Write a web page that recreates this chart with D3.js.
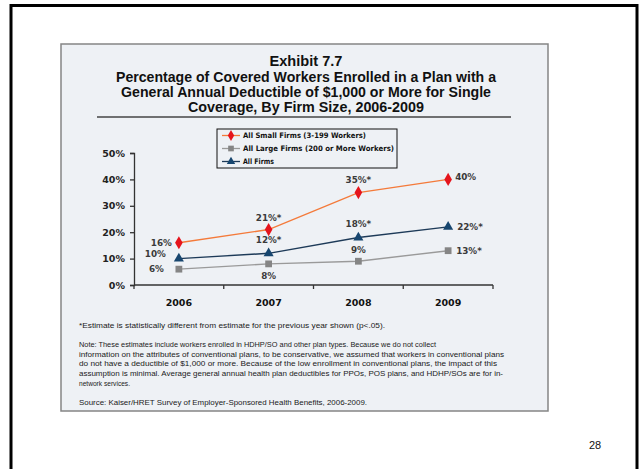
<!DOCTYPE html>
<html><head><meta charset="utf-8">
<script src="https://cdn.jsdelivr.net/npm/d3@7"></script>
<style>html,body{margin:0;padding:0;background:#fff;}svg{display:block;}</style>
</head><body>
<script>
// ---- data ----
const years = ["2006", "2007", "2008", "2009"];
const smallFirms = [0.16, 0.21, 0.35, 0.40];
const largeFirms = [0.06, 0.08, 0.09, 0.13];
const allFirms = [0.10, 0.12, 0.18, 0.22];
const smallLabels = ["16%", "21%*", "35%*", "40%"];
const largeLabels = ["6%", "8%", "9%", "13%*"];
const allLabels = ["10%", "12%*", "18%*", "22%*"];
const yTicks = [0, 0.1, 0.2, 0.3, 0.4, 0.5];
const seriesNames = ["All Small Firms (3-199 Workers)", "All Large Firms (200 or More Workers)", "All Firms"];
const titleLines = ["Exhibit 7.7",
  "Percentage of Covered Workers Enrolled in a Plan with a",
  "General Annual Deductible of $1,000 or More for Single",
  "Coverage, By Firm Size, 2006-2009"];
const footnotes = ["*Estimate is statistically different from estimate for the previous year shown (p<.05).",
  "Note: These estimates include workers enrolled in HDHP/SO and other plan types.  Because we do not collect",
  "information on the attributes of conventional plans, to be conservative, we assumed that workers in conventional plans",
  "do not have a deductible of $1,000 or more.  Because of the low enrollment in conventional plans, the impact of this",
  "assumption is minimal. Average general annual health plan deductibles for PPOs, POS plans, and HDHP/SOs are for in-",
  "network services.",
  "Source: Kaiser/HRET Survey of Employer-Sponsored Health Benefits, 2006-2009."];
const pageNumber = "28";

// ---- layout / style ----
const W = 640, H = 469;
const svg = d3.select("body").append("svg").attr("width", W).attr("height", H);

// outer frame
svg.append("path").attr("d", `M11,${H} V5.5 H637 V${H}`).attr("fill", "none").attr("stroke", "#000").attr("stroke-width", 3);
// panel
svg.append("rect").attr("x", 61).attr("y", 44).attr("width", 487).attr("height", 367)
  .attr("fill", "#eef1f5").attr("stroke", "#858585").attr("stroke-width", 1.5);

// title
const titleFont = "'Liberation Sans Narrow','Arial Narrow','Liberation Sans',Arial,sans-serif";
const titleY = [66, 82, 97, 112];
const titleW = [73, 380, 370, 236];
titleLines.forEach((t, i) => {
  svg.append("text").attr("x", 306).attr("y", titleY[i]).attr("text-anchor", "middle")
    .attr("font-family", titleFont).attr("font-weight", "bold").attr("font-size", 14.5)
    .attr("fill", "#111").attr("textLength", titleW[i]).attr("lengthAdjust", "spacingAndGlyphs").text(t);
});
svg.append("line").attr("x1", 97).attr("x2", 511).attr("y1", 117).attr("y2", 117)
  .attr("stroke", "#444").attr("stroke-width", 1.3);

// scales
const x = d3.scaleBand().domain(years).range([134, 493]).padding(0);
const y = d3.scaleLinear().domain([0, 0.5]).range([285, 153]);
const cx = d => x(d) + x.bandwidth() / 2;

const axisColor = "#333";
// y axis
const yAxis = svg.append("g").attr("transform", "translate(134,0)")
  .call(d3.axisLeft(y).tickValues(yTicks).tickFormat(d3.format(".0%")).tickSize(4).tickPadding(5));
yAxis.select(".domain").attr("stroke", axisColor).attr("stroke-width", 1.3);
yAxis.selectAll(".tick line").attr("stroke", axisColor).attr("stroke-width", 1.3);
yAxis.selectAll(".tick text").attr("font-family", "'DejaVu Sans',Verdana,sans-serif").attr("font-weight", "bold")
  .attr("font-size", 9.5).attr("fill", "#222");

// x axis: line with ticks at band boundaries
const xAxis = svg.append("g").attr("transform", "translate(0,285)");
xAxis.append("line").attr("x1", x.range()[0]).attr("x2", x.range()[1]).attr("stroke", axisColor).attr("stroke-width", 1.3);
const bounds = years.map(d => x(d)).concat([x(years[years.length - 1]) + x.bandwidth()]);
xAxis.selectAll("line.tk").data(bounds).join("line").attr("class", "tk")
  .attr("x1", d => d).attr("x2", d => d).attr("y1", 0).attr("y2", 4).attr("stroke", axisColor).attr("stroke-width", 1.3);
xAxis.selectAll("text").data(years).join("text").attr("x", d => cx(d)).attr("y", 21)
  .attr("text-anchor", "middle").attr("font-family", "'DejaVu Sans',Verdana,sans-serif").attr("font-weight", "bold")
  .attr("font-size", 9.5).attr("fill", "#111").text(d => d);

// series
const series = [
  { vals: largeFirms, labels: largeLabels, line: "#9a9a9a", mark: "#858585", sym: d3.symbolSquare, size: 46,
    place: [["end", -15, 0], ["middle", 0, 12.5], ["middle", 0, -11], ["start", 8, 0]] },
  { vals: allFirms, labels: allLabels, line: "#1d3a58", mark: "#17466f", sym: d3.symbolTriangle, size: 44,
    place: [["end", -13, -4.5], ["middle", 0, -13], ["middle", 0, -13.5], ["start", 9, 0]] },
  { vals: smallFirms, labels: smallLabels, line: "#f47a3a", mark: "#e5141c", sym: d3.symbolDiamond, size: 50,
    place: [["end", -7, 0], ["middle", 0, -11.5], ["middle", 0, -12.5], ["start", 7, -2]] }
];
const lineGen = d3.line().x((d, i) => cx(years[i])).y(d => y(d));
series.forEach(s => {
  svg.append("path").datum(s.vals).attr("d", lineGen).attr("fill", "none").attr("stroke", s.line).attr("stroke-width", 1.4);
  svg.selectAll(null).data(s.vals).join("path")
    .attr("transform", (d, i) => `translate(${cx(years[i])},${y(d)})`)
    .attr("d", d3.symbol().type(s.sym).size(s.size)).attr("fill", s.mark);
  svg.selectAll(null).data(s.vals).join("text")
    .attr("x", (d, i) => cx(years[i]) + s.place[i][1]).attr("y", (d, i) => y(d) + s.place[i][2])
    .attr("dy", "0.35em").attr("text-anchor", (d, i) => s.place[i][0])
    .attr("font-family", "'DejaVu Sans',Verdana,sans-serif").attr("font-weight", "bold").attr("font-size", 8.8)
    .attr("fill", "#3a3a3a").text((d, i) => s.labels[i]);
});

// legend
const lg = svg.append("g");
lg.append("rect").attr("x", 217).attr("y", 129).attr("width", 180).attr("height", 39)
  .attr("fill", "#eef1f5").attr("stroke", "#111").attr("stroke-width", 1);
const legendOrder = [series[2], series[0], series[1]];
const legendW = [123, 151, 31];
legendOrder.forEach((s, i) => {
  const ly = 135.5 + i * 13;
  lg.append("line").attr("x1", 222).attr("x2", 240).attr("y1", ly).attr("y2", ly).attr("stroke", s.line).attr("stroke-width", 1.3);
  lg.append("path").attr("transform", `translate(231,${ly})`).attr("d", d3.symbol().type(s.sym).size(s.size * 0.7)).attr("fill", s.mark);
  lg.append("text").attr("x", 243).attr("y", ly).attr("dy", "0.35em")
    .attr("font-family", "'DejaVu Sans',Verdana,sans-serif").attr("font-weight", "bold").attr("font-size", 7.5)
    .attr("fill", "#111").attr("textLength", legendW[i]).attr("lengthAdjust", "spacingAndGlyphs").text(seriesNames[i]);
});

// footnotes
const footY = [325, 344, 354, 363.5, 373.5, 383.5, 402];
const footW = [306, 357, 425, 418, 424, 51, 288];
footnotes.forEach((t, i) => {
  svg.append("text").attr("x", 79).attr("y", footY[i]).attr("dy", "0.35em")
    .attr("font-family", "'Liberation Sans',Arial,sans-serif").attr("font-size", 8).attr("fill", "#1a1a1a")
    .attr("textLength", footW[i]).attr("lengthAdjust", "spacingAndGlyphs").text(t);
});

// page number
svg.append("text").attr("x", 595).attr("y", 445).attr("dy", "0.35em").attr("text-anchor", "middle")
  .attr("font-family", "'Liberation Sans',Arial,sans-serif").attr("font-size", 11).attr("fill", "#111").text(pageNumber);
</script>
</body></html>
